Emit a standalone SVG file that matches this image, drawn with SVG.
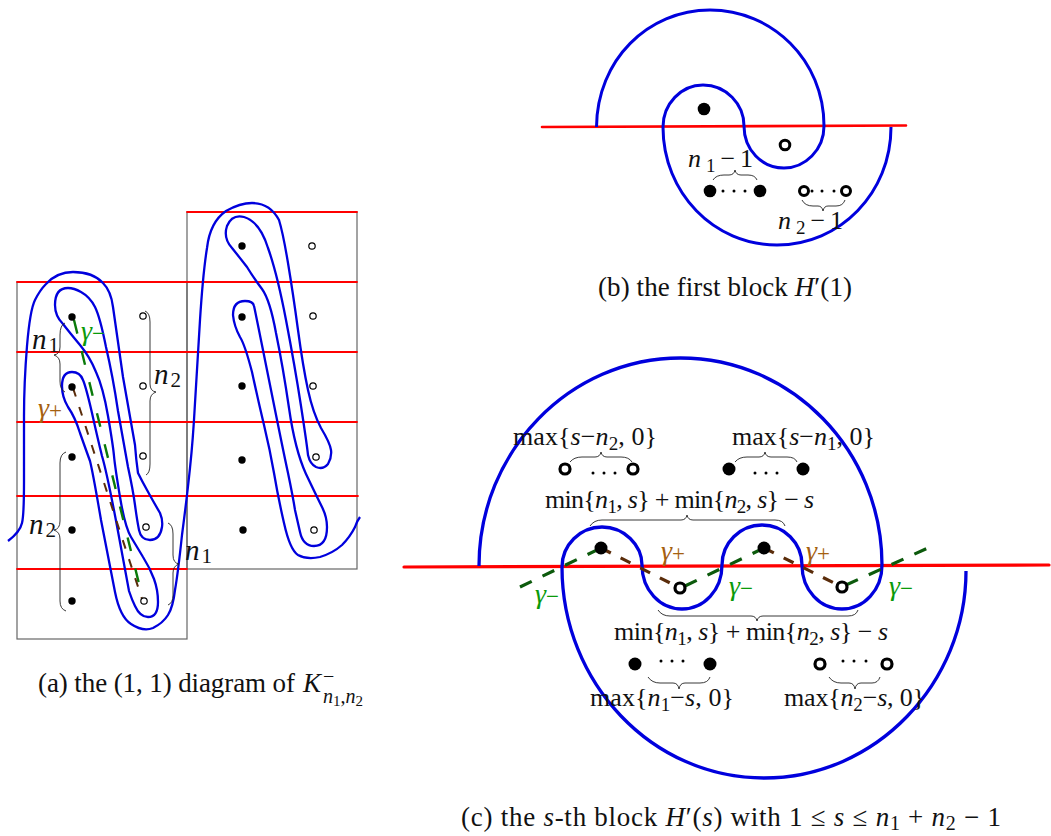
<svg xmlns="http://www.w3.org/2000/svg" width="1051" height="836" viewBox="0 0 1051 836">
<style>
text{font-family:"Liberation Serif","Times New Roman",serif;fill:#111;font-size:27px}
.i{font-style:italic}
.s{font-size:20px}
.ss{font-size:15px}
.l{font-size:26px}
.ls{font-size:19px}
.big{font-size:29px}
.bigs{font-size:21px}
.g{font-size:28px;font-style:italic}
.gs{font-size:23px;font-style:normal}
.box{fill:none;stroke:#666;stroke-width:1.2}
.red{fill:none;stroke:#f00;stroke-linecap:round}
.blue{fill:none;stroke:#00d;stroke-linecap:butt}
.brace{fill:none;stroke:#222;stroke-width:.9}
.bd{fill:#000}
.od{fill:#fff;stroke:#000}
.gl{fill:#0a9a0a}
.bl{fill:#a5600f}
</style>
<g id="panel-a">
  <rect class="box" x="17" y="282" width="170" height="357"/>
  <rect class="box" x="187" y="212" width="170" height="357"/>
  <g class="red" stroke-width="1.8">
    <path d="M187,212H357M17,282H357M17,352H357M17,422H357M17,496H358M17,569H187"/>
  </g>
  <path class="blue" stroke-width="2.3" d="M8,541Q20,532 22,523Q24,515 24,482Q24,450 24,416Q24,383 27,346Q30,310 35,300Q40,290 46,284Q57,272 73,272Q93,272 103,283Q111,291 113,307Q118,342 123,377Q129,411 135,445Q136,459 138,473Q142,481 147,490Q153,501 160,513Q163,520 162,527Q160,540 150,540Q141,540 139,530Q137,520 135,505Q133,490 128,467Q124,445 118,411Q113,377 106,347Q100,317 95,307Q90,297 81,292Q74,288 68,288Q55,288 55,305Q55,316 63,324Q70,333 80,345Q90,357 96,372Q103,387 108,416Q113,445 114,456Q115,467 120,497Q125,527 131,537Q137,547 143,557Q150,568 154,579Q158,590 158,602Q158,617 148,617Q140,617 135,606Q132,600 129,591Q127,580 117,526Q107,473 102,456Q98,440 92,413Q86,387 83,380Q80,372 72,372Q62,372 62,386Q62,397 68,407Q75,417 80,433Q86,450 90,461Q93,473 101,520Q110,567 115,592Q120,617 131,624Q143,632 153,628Q163,623 168,615Q173,607 175,590Q178,573 182,535Q187,497 190,468Q193,440 195,403Q197,367 200,320Q203,273 207,248Q210,222 226,211Q240,203 252,203Q270,203 279,220Q283,233 288,263Q293,293 298,330Q303,367 308,390Q313,413 321,428Q330,443 331,450Q332,457 328,464Q323,470 316,467Q310,464 308,455Q307,445 301,406Q295,367 286,320Q277,273 268,248Q260,222 244,217Q232,214 227,226Q223,238 232,248Q240,258 247,267Q253,277 262,289Q270,300 276,333Q283,367 289,408Q295,450 306,474Q317,497 322,507Q327,517 327,527Q327,546 314,546Q303,546 300,532Q298,523 295,510Q293,497 288,473Q283,450 269,380Q255,310 254,306Q253,301 245,301Q233,301 233,315Q234,326 240,337Q245,345 252,372Q258,400 264,425Q270,450 274,473Q278,497 284,523Q290,550 298,555Q307,560 320,557Q333,553 342,545Q350,537 355,527Q357,521 360,517"/>
  <path fill="none" stroke="#0a7a0a" stroke-width="2.4" stroke-dasharray="14 18" d="M74,320L143,600"/>
  <path fill="none" stroke="#5a2c0a" stroke-width="2" stroke-dasharray="9 11" d="M73,388L143,602"/>
  <g class="bd">
    <circle cx="72" cy="317" r="3.7"/><circle cx="72" cy="387" r="3.7"/><circle cx="72" cy="457" r="3.7"/><circle cx="72" cy="530" r="3.7"/><circle cx="72" cy="601" r="3.7"/>
    <circle cx="242" cy="246" r="3.7"/><circle cx="242" cy="317" r="3.7"/><circle cx="242" cy="386" r="3.7"/><circle cx="242" cy="460" r="3.7"/><circle cx="243" cy="530" r="3.7"/>
  </g>
  <g class="od" stroke-width="1.2">
    <circle cx="143" cy="316" r="3.2"/><circle cx="143" cy="386" r="3.2"/><circle cx="143" cy="456" r="3.2"/><circle cx="146" cy="527" r="3.2"/><circle cx="144" cy="601" r="3.2"/>
    <circle cx="312" cy="246" r="3.2"/><circle cx="313" cy="316" r="3.2"/><circle cx="313" cy="386" r="3.2"/><circle cx="316" cy="457" r="3.2"/><circle cx="314" cy="530" r="3.2"/>
  </g>
  <g class="brace">
    <path d="M65,323Q60,325 60,335V347Q60,354 54,355Q60,357 60,364V381Q60,390 65,392"/>
    <path d="M145,311Q150,313 150,322V384Q150,391 156,392Q150,394 150,401V464Q150,473 146,475"/>
    <path d="M66,452Q60,454 60,463V521Q60,529 54,530Q60,532 60,539V601Q60,609 66,611"/>
    <path d="M168,523Q173,525 173,534V555Q173,563 179,564Q173,566 173,573V595Q173,603 168,605"/>
  </g>
  <text x="32" y="349" class="big"><tspan class="i">n</tspan><tspan class="bigs" dy="3" dx="2">1</tspan></text>
  <text x="154" y="384" class="big"><tspan class="i">n</tspan><tspan class="bigs" dy="3" dx="2">2</tspan></text>
  <text x="29" y="534" class="big"><tspan class="i">n</tspan><tspan class="bigs" dy="3" dx="2">2</tspan></text>
  <text x="185" y="560" class="big"><tspan class="i">n</tspan><tspan class="bigs" dy="3" dx="2">1</tspan></text>
  <text x="81" y="340" class="g gl">γ<tspan class="gs" dy="1">−</tspan></text>
  <text x="38" y="417" class="g bl">γ<tspan class="gs" dy="1">+</tspan></text>
  <text x="38" y="692" textLength="257">(a) the (1, 1) diagram of</text>
  <text x="303" y="692" class="i">K<tspan class="s" font-style="normal" dx="2" dy="-9">−</tspan></text>
  <text x="323" y="703" class="s i">n<tspan class="ss" font-style="normal" dy="3">1</tspan><tspan dy="-3" font-style="normal">,</tspan>n<tspan class="ss" font-style="normal" dy="3">2</tspan></text>
</g>
<g id="panel-b">
  <path class="red" stroke-width="2.6" d="M542,127L906,125.5"/>
  <path class="blue" stroke-width="3" d="M596.500,127C597,60 648,10 710,10C772,10 824,60 824,126C824,150 805,168 784,168C762,168 744,150 744,126C744,104 726,85 703,85C681,85 663,104 663,127C663,193 714,245 777,245C840,245 891,193 891,127"/>
  <g class="bd">
    <circle cx="704" cy="109" r="6.300"/><circle cx="710" cy="191" r="6.300"/><circle cx="760" cy="191" r="6.300"/>
    <circle cx="723" cy="191" r="1.500"/><circle cx="734" cy="191" r="1.500"/><circle cx="745" cy="191" r="1.500"/>
    <circle cx="812" cy="191" r="1.500"/><circle cx="822" cy="191" r="1.500"/><circle cx="834" cy="191" r="1.500"/>
  </g>
  <g class="od" stroke-width="3">
    <circle cx="785" cy="145" r="4.800"/><circle cx="804" cy="191" r="4.500"/><circle cx="846" cy="191" r="4.500"/>
  </g>
  <g class="brace">
    <path d="M713,180Q716,175 724,175H729Q734,175 735,170Q736,175 741,175H748Q755,175 757,180"/>
    <path d="M802,200Q805,206 813,206H818Q822,206 823,211Q824,206 828,206H836Q843,206 845,200"/>
  </g>
  <text x="688" y="167" class="l" textLength="65"><tspan class="i">n</tspan><tspan class="ls" dy="5">1</tspan><tspan dy="-5">−1</tspan></text>
  <text x="778" y="229" class="l" textLength="65"><tspan class="i">n</tspan><tspan class="ls" dy="5">2</tspan><tspan dy="-5">−1</tspan></text>
  <text x="598" y="296" textLength="254">(b) the first block <tspan class="i">H</tspan>′(1)</text>
</g>
<g id="panel-c">
  <path class="red" stroke-width="3.2" d="M404,567L1049,565"/>
  <path class="blue" stroke-width="3.300" d="M479,566C479,451 570,358 680.500,358C792,358 882,451 882,565C882,590 864,609 842,609C820,609 802,590 802,565C802,543 784,525 762,525C740,525 722,543 722,565C722,590 704,609 682,609C660,609 642,590 642,565C642,545 624,527 602,527C580,527 562,545 562,567C562,683 652,778 764,778C876,778 966,683 966,571"/>
  <g fill="none" stroke="#0c5a0c" stroke-width="3.200" stroke-dasharray="13 12">
    <path d="M520,587L601,548"/><path d="M685,586L764,548"/><path d="M846,585L928,548"/>
  </g>
  <g fill="none" stroke="#5a2c0a" stroke-width="3.200" stroke-dasharray="11 11">
    <path d="M601,548L680,588"/><path d="M764,548L842,587"/>
  </g>
  <g class="bd">
    <circle cx="601" cy="548" r="6.500"/><circle cx="764" cy="548" r="6.500"/>
    <circle cx="729" cy="469" r="6.500"/><circle cx="803" cy="469" r="6.500"/><circle cx="635" cy="664" r="6.500"/><circle cx="710" cy="664" r="6.500"/>
    <circle cx="593" cy="473" r="1.500"/><circle cx="604" cy="473" r="1.500"/><circle cx="615" cy="473" r="1.500"/>
    <circle cx="755" cy="473" r="1.500"/><circle cx="766" cy="473" r="1.500"/><circle cx="777" cy="473" r="1.500"/>
    <circle cx="661" cy="661" r="1.500"/><circle cx="672" cy="661" r="1.500"/><circle cx="683" cy="661" r="1.500"/>
    <circle cx="843" cy="661" r="1.500"/><circle cx="854" cy="661" r="1.500"/><circle cx="866" cy="661" r="1.500"/>
  </g>
  <g class="od" stroke-width="3.200">
    <circle cx="680" cy="588" r="5"/><circle cx="842" cy="587" r="5"/><circle cx="565" cy="469" r="5"/><circle cx="633" cy="469" r="5"/><circle cx="820" cy="664" r="5"/><circle cx="887" cy="664" r="5"/>
  </g>
  <g class="brace">
    <path d="M570,462Q574,457 582,457H595Q600,457 601,452Q602,457 607,457H621Q629,457 632,462"/>
    <path d="M735,462Q739,457 747,457H759Q764,457 765,452Q766,457 771,457H787Q795,457 797,462"/>
    <path d="M590,526Q594,520 602,520H681Q686,520 687,515Q688,520 693,520H775Q783,520 785,526"/>
    <path d="M658,610Q662,616 670,616H751Q756,616 757,621Q758,616 763,616H848Q856,616 858,610"/>
    <path d="M648,677Q652,683 660,683H673Q678,683 679,689Q680,683 685,683H700Q708,683 710,677"/>
    <path d="M829,677Q833,683 841,683H849Q854,683 855,689Q856,683 861,683H872Q878,683 880,677"/>
  </g>
  <text x="513" y="445" class="l" textLength="144">max{<tspan class="i">s</tspan>−<tspan class="i">n</tspan><tspan class="ls" dy="5">2</tspan><tspan dy="-5">, 0}</tspan></text>
  <text x="732" y="445" class="l" textLength="143">max{<tspan class="i">s</tspan>−<tspan class="i">n</tspan><tspan class="ls" dy="5">1</tspan><tspan dy="-5">, 0}</tspan></text>
  <text x="545" y="508" class="l" textLength="269">min{<tspan class="i">n</tspan><tspan class="ls" dy="5">1</tspan><tspan dy="-5">, </tspan><tspan class="i">s</tspan>} + min{<tspan class="i">n</tspan><tspan class="ls" dy="5">2</tspan><tspan dy="-5">, </tspan><tspan class="i">s</tspan>} − <tspan class="i">s</tspan></text>
  <text x="614" y="640" class="l" textLength="274">min{<tspan class="i">n</tspan><tspan class="ls" dy="5">1</tspan><tspan dy="-5">, </tspan><tspan class="i">s</tspan>} + min{<tspan class="i">n</tspan><tspan class="ls" dy="5">2</tspan><tspan dy="-5">, </tspan><tspan class="i">s</tspan>} − <tspan class="i">s</tspan></text>
  <text x="590" y="706" class="l" textLength="144">max{<tspan class="i">n</tspan><tspan class="ls" dy="5">1</tspan><tspan dy="-5">−</tspan><tspan class="i">s</tspan>, 0}</text>
  <text x="784" y="706" class="l" textLength="141">max{<tspan class="i">n</tspan><tspan class="ls" dy="5">2</tspan><tspan dy="-5">−</tspan><tspan class="i">s</tspan>, 0}</text>
  <text x="661" y="560" class="g bl">γ<tspan class="gs" dy="1">+</tspan></text>
  <text x="806" y="560" class="g bl">γ<tspan class="gs" dy="1">+</tspan></text>
  <text x="535" y="603" class="g gl">γ<tspan class="gs" dy="1">−</tspan></text>
  <text x="729" y="595" class="g gl">γ<tspan class="gs" dy="1">−</tspan></text>
  <text x="889" y="595" class="g gl">γ<tspan class="gs" dy="1">−</tspan></text>
  <text x="461" y="826" textLength="540">(c) the <tspan class="i">s</tspan>-th block <tspan class="i">H</tspan>′(<tspan class="i">s</tspan>) with 1 ≤ <tspan class="i">s</tspan> ≤ <tspan class="i">n</tspan><tspan class="s" dy="4">1</tspan><tspan dy="-4"> + </tspan><tspan class="i">n</tspan><tspan class="s" dy="4">2</tspan><tspan dy="-4"> − 1</tspan></text>
</g>
</svg>
